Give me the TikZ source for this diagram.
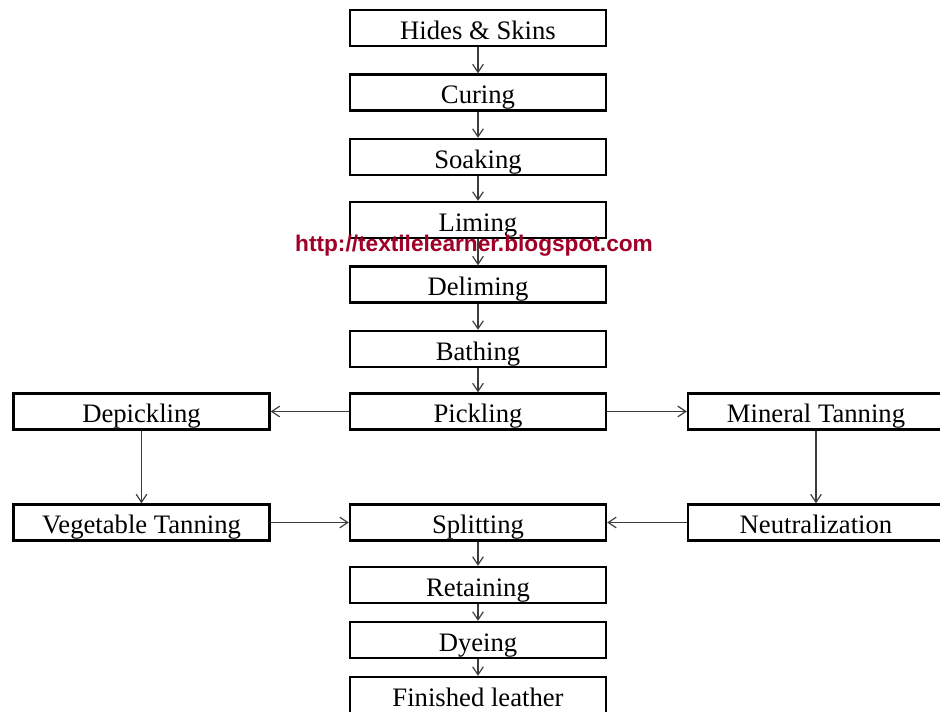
\documentclass[tikz,border=0pt]{standalone}
\usepackage{fontspec}
\setmainfont{Liberation Serif}
\newfontfamily\wmfont{Liberation Sans}
\usetikzlibrary{arrows.meta}
\definecolor{wmred}{RGB}{160,0,40}
\definecolor{arrowgray}{RGB}{60,60,60}
\tikzset{
  stepbox/.style={draw=black, line width=1.7pt, fill=white, minimum width=192pt, minimum height=27pt, inner sep=0pt, text height=19pt, text depth=2.4pt, font=\fontsize{20pt}{22pt}\selectfont},
  flow/.style={draw=arrowgray, line width=0.9pt, -{Straight Barb[length=6pt,width=8pt]}},
}
\begin{document}
\begin{tikzpicture}[x=0.75pt,y=-0.75pt]
\useasboundingbox[fill=white] (0,0) rectangle (940,712);
% central column
\node[stepbox] (hides) at (478,28) {Hides \& Skins};
\node[stepbox] (curing) at (478,92.5) {Curing};
\node[stepbox] (soaking) at (478,157) {Soaking};
\node[stepbox] (liming) at (478,220) {Liming};
\node[stepbox] (deliming) at (478,284.5) {Deliming};
\node[stepbox] (bathing) at (478,349) {Bathing};
\node[stepbox] (pickling) at (478,411.5) {Pickling};
\node[stepbox] (splitting) at (478,522.5) {Splitting};
\node[stepbox] (retaining) at (478,585) {Retaining};
\node[stepbox] (dyeing) at (478,640) {Dyeing};
\node[stepbox] (finished) at (478,695) {Finished leather};
% side columns
\node[stepbox] (depickling) at (141.5,411.5) {Depickling};
\node[stepbox] (vegetable) at (141.5,522.5) {Vegetable Tanning};
\node[stepbox] (mineral) at (816,411.5) {Mineral Tanning};
\node[stepbox] (neutral) at (816,522.5) {Neutralization};
% connectors
\draw[flow] (hides) -- (curing);
\draw[flow] (curing) -- (soaking);
\draw[flow] (soaking) -- (liming);
\draw[flow] (liming) -- (deliming);
\draw[flow] (deliming) -- (bathing);
\draw[flow] (bathing) -- (pickling);
\draw[flow] (pickling) -- (depickling);
\draw[flow] (pickling) -- (mineral);
\draw[flow] (depickling) -- (vegetable);
\draw[flow] (mineral) -- (neutral);
\draw[flow] (vegetable) -- (splitting);
\draw[flow] (neutral) -- (splitting);
\draw[flow] (splitting) -- (retaining);
\draw[flow] (retaining) -- (dyeing);
\draw[flow] (dyeing) -- (finished);
% watermark
\node[text=wmred, font=\wmfont\bfseries\fontsize{17pt}{19pt}\selectfont, inner sep=0pt, anchor=base] (wm) at (474,252) {http://textilelearner.blogspot.com};
\end{tikzpicture}
\end{document}
